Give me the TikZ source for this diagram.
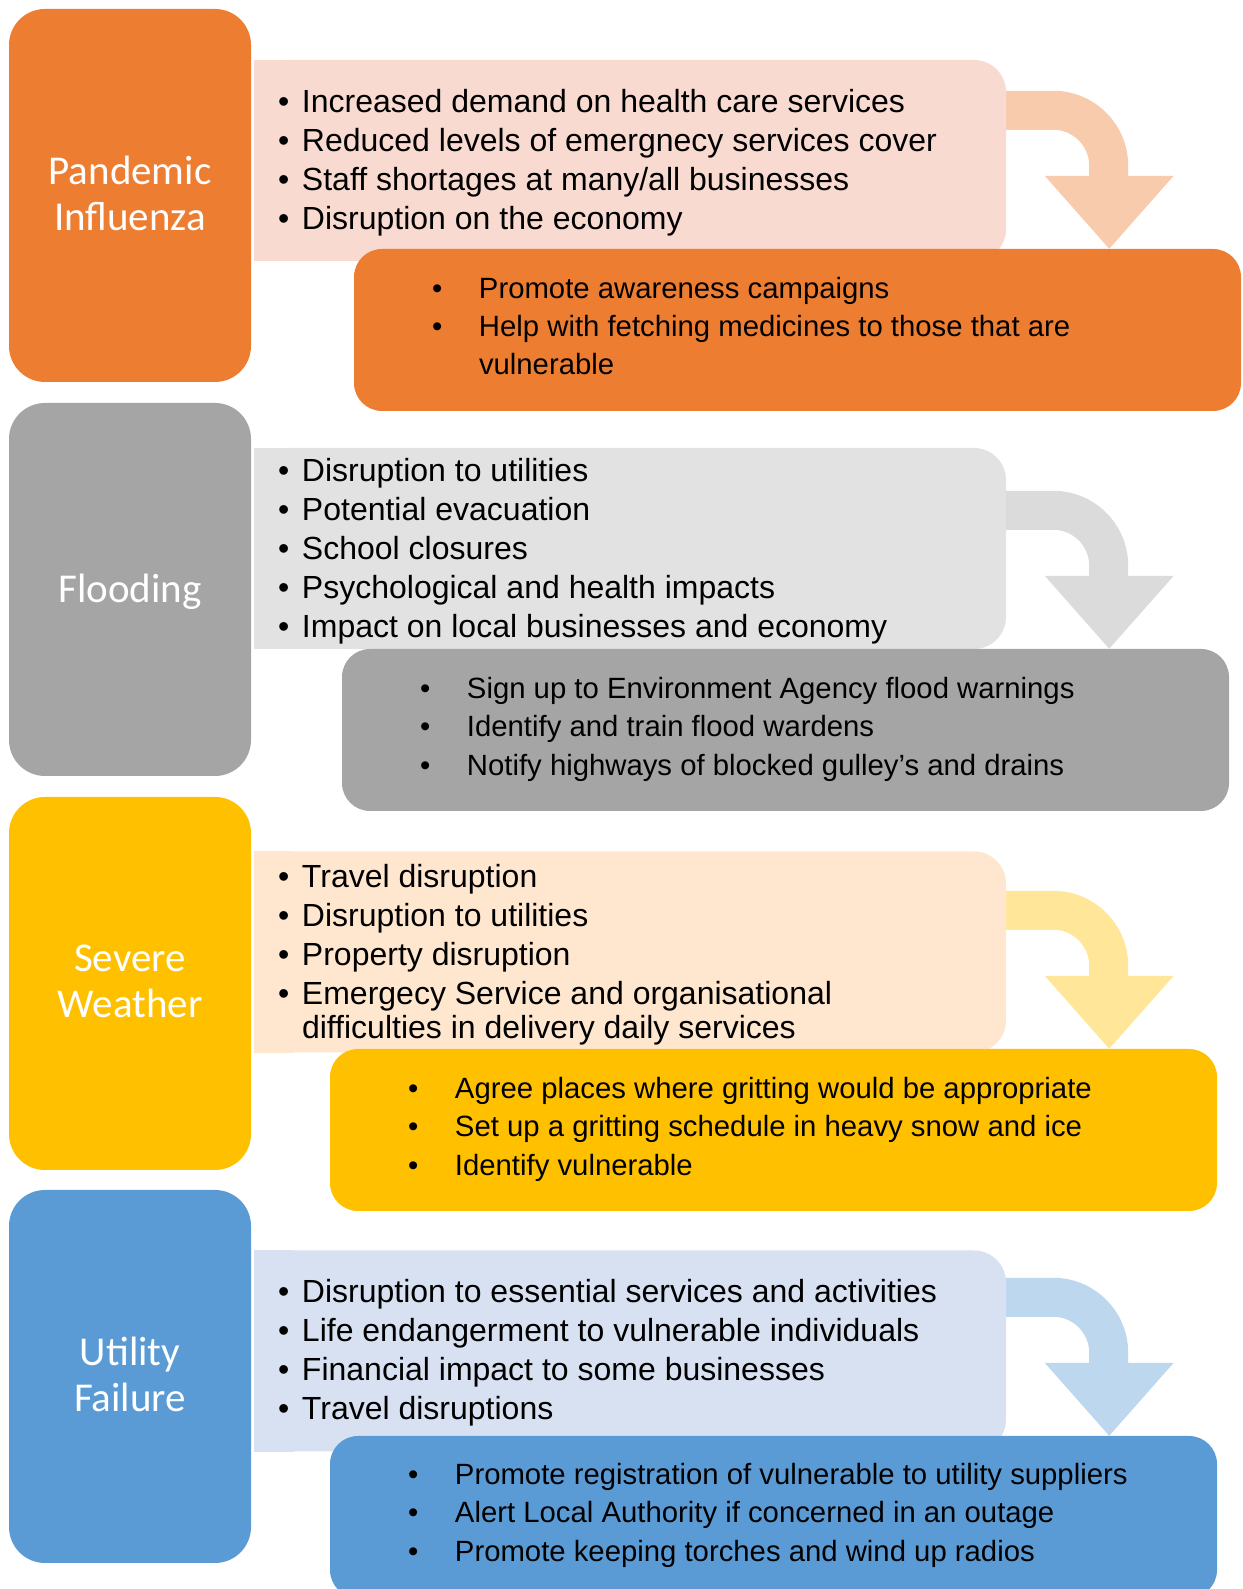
\documentclass[tikz,border=0pt]{standalone}
\usepackage{fontspec}
\setmainfont{Liberation Sans}
\newfontfamily\calfont{Carlito}
\usetikzlibrary{positioning}
\pgfdeclarelayer{back}
\pgfsetlayers{back,main}
\definecolor{pandDark}{HTML}{ED7D31}
\definecolor{pandLight}{HTML}{F8DAD0}
\definecolor{pandArrow}{HTML}{F8CBAD}
\definecolor{floodDark}{HTML}{A5A5A5}
\definecolor{floodLight}{HTML}{E2E2E2}
\definecolor{floodArrow}{HTML}{DBDBDB}
\definecolor{sevDark}{HTML}{FFC000}
\definecolor{sevLight}{HTML}{FFE7CF}
\definecolor{sevArrow}{HTML}{FFE699}
\definecolor{utilDark}{HTML}{5B9BD5}
\definecolor{utilLight}{HTML}{D7E1F1}
\definecolor{utilArrow}{HTML}{BDD7EE}
\newcommand{\lbul}{\makebox[24pt][l]{\textbullet}}
\newcommand{\dbul}{\makebox[47pt][l]{\textbullet}}

\begin{document}
\begin{tikzpicture}[x=1pt,y=1pt,
  hazard/.style={rectangle, rounded corners=36pt, minimum width=242pt, minimum height=373pt, inner sep=0pt},
  hazlabel/.style={inner sep=0pt, text=white, align=center, font=\calfont\fontsize{41}{46.5}\selectfont},
  effect/.style={rectangle, rounded corners=32pt, minimum width=752pt, minimum height=201pt, inner sep=0pt},
  action/.style={rectangle, rounded corners=28pt, minimum width=887pt, minimum height=162pt, inner sep=0pt},
  efftext/.style={inner sep=0pt, align=left, font=\fontsize{32}{39}\selectfont},
  acttext/.style={inner sep=0pt, align=left, font=\fontsize{29.3}{38.5}\selectfont},
  bent/.pic={\fill[#1] (-130,158) -- (-56,158) arc[start angle=90, end angle=0, radius=75]
    -- (19,73) -- (64.5,73) -- (0,0) -- (-64.5,73) -- (-20,73) -- (-20,83)
    arc[start angle=0, end angle=90, radius=36] -- (-130,119) -- cycle;}
]
\useasboundingbox (0,0) rectangle (1242,1589);
\clip (0,0) rectangle (1242,1589);
%---------------------------------- Pandemic Influenza
\node[hazard, fill=pandDark] (pan) at (130,1393.5) {};
\node[hazlabel, yshift=2pt] (pan-lbl) at (pan) {Pandemic\\Influenza};
\node[effect, fill=pandLight] (pan-eff) at (630,1428.5) {};
\fill[pandLight] (pan-eff.south west) rectangle ([xshift=40pt]pan-eff.north west);
\node[action, fill=pandDark] (pan-act) at (797.5,1259) {};
\node[efftext, right=24pt of pan-eff.west, yshift=-2.5pt] (pan-efftxt) {\lbul Increased demand on health care services\\
  \lbul Reduced levels of emergnecy services cover\\
  \lbul Staff shortages at many/all businesses\\
  \lbul Disruption on the economy};
\node[acttext, right=78pt of pan-act.west, yshift=4pt] (pan-acttxt) {\dbul Promote awareness campaigns\\
  \dbul Help with fetching medicines to those that are\\[-1pt]
  \hspace*{47pt}vulnerable};
\coordinate[right=103pt of pan-eff.east] (pan-bend);
%---------------------------------- Flooding
\node[hazard, fill=floodDark] (flood) at (130,999.5) {};
\node[hazlabel, yshift=-2pt] (flood-lbl) at (flood) {Flooding};
\node[effect, fill=floodLight] (flood-eff) at (630,1040.5) {};
\fill[floodLight] (flood-eff.south west) rectangle ([xshift=40pt]flood-eff.north west);
\node[action, fill=floodDark] (flood-act) at (785.5,859) {};
\node[efftext, right=24pt of flood-eff.west, yshift=-2.5pt] (flood-efftxt) {\lbul Disruption to utilities\\
  \lbul Potential evacuation\\
  \lbul School closures\\
  \lbul Psychological and health impacts\\
  \lbul Impact on local businesses and economy};
\node[acttext, right=78pt of flood-act.west, yshift=1pt] (flood-acttxt) {\dbul Sign up to Environment Agency flood warnings\\
  \dbul Identify and train flood wardens\\
  \dbul Notify highways of blocked gulley’s and drains};
\coordinate[right=103pt of flood-eff.east] (flood-bend);
%---------------------------------- Severe Weather
\node[hazard, fill=sevDark] (sev) at (130,605.5) {};
\node[hazlabel, yshift=2pt] (sev-lbl) at (sev) {Severe\\Weather};
\node[effect, fill=sevLight] (sev-eff) at (630,637) {};
\fill[sevLight] (sev-eff.south west) rectangle ([xshift=40pt]sev-eff.north west);
\node[action, fill=sevDark] (sev-act) at (773.5,459) {};
\node[efftext, right=24pt of sev-eff.west, yshift=-2.5pt] (sev-efftxt) {\lbul Travel disruption\\
  \lbul Disruption to utilities\\
  \lbul Property disruption\\
  \lbul Emergecy Service and organisational\\[-5.5pt]
  \hspace*{24pt}difficulties in delivery daily services};
\node[acttext, right=78pt of sev-act.west, yshift=1pt] (sev-acttxt) {\dbul Agree places where gritting would be appropriate\\
  \dbul Set up a gritting schedule in heavy snow and ice\\
  \dbul Identify vulnerable};
\coordinate[right=103pt of sev-eff.east] (sev-bend);
%---------------------------------- Utility Failure
\node[hazard, fill=utilDark] (util) at (130,212.5) {};
\node[hazlabel, yshift=2pt] (util-lbl) at (util) {Utility\\Failure};
\node[effect, fill=utilLight] (util-eff) at (630,238) {};
\fill[utilLight] (util-eff.south west) rectangle ([xshift=40pt]util-eff.north west);
\node[action, fill=utilDark] (util-act) at (773.5,72) {};
\node[efftext, right=24pt of util-eff.west, yshift=-2pt] (util-efftxt) {\lbul Disruption to essential services and activities\\
  \lbul Life endangerment to vulnerable individuals\\
  \lbul Financial impact to some businesses\\
  \lbul Travel disruptions};
\node[acttext, right=78pt of util-act.west, yshift=2pt] (util-acttxt) {\dbul Promote registration of vulnerable to utility suppliers\\
  \dbul Alert Local Authority if concerned in an outage\\
  \dbul Promote keeping torches and wind up radios};
\coordinate[right=103pt of util-eff.east] (util-bend);
%---------------------------------- bent arrows
\begin{pgfonlayer}{back}
\pic at (pan-bend |- pan-act.north) {bent=pandArrow};
\pic at (flood-bend |- flood-act.north) {bent=floodArrow};
\pic at (sev-bend |- sev-act.north) {bent=sevArrow};
\pic at (util-bend |- util-act.north) {bent=utilArrow};
\end{pgfonlayer}
\end{tikzpicture}
\end{document}
